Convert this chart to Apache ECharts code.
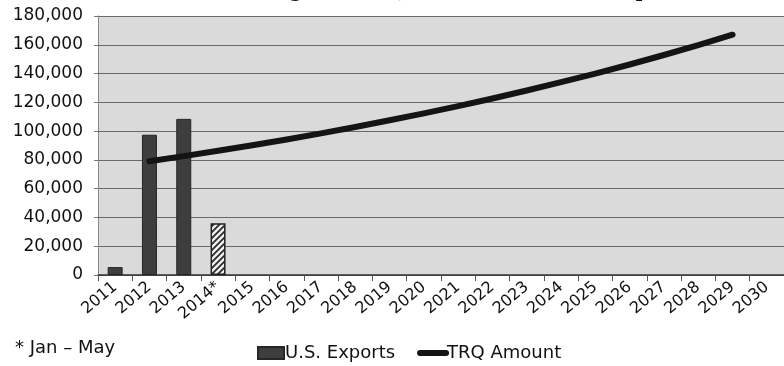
<!DOCTYPE html>
<html>
<head>
<meta charset="utf-8">
<script src="https://cdn.jsdelivr.net/npm/echarts@6/dist/echarts.min.js"></script>
<style>
  html, body { margin: 0; padding: 0; background: #ffffff; }
  #chart { width: 784px; height: 366px; }
</style>
</head>
<body>
<div id="chart"></div>
<script>
// Marketing years shown on the category axis (2014 is a partial year)
var years = ['2011', '2012', '2013', '2014*', '2015', '2016', '2017', '2018', '2019', '2020',
             '2021', '2022', '2023', '2024', '2025', '2026', '2027', '2028', '2029', '2030'];

// U.S. exports, metric tons
var usExports = [5500, 97500, 108500, 36000, null, null, null, null, null, null,
                 null, null, null, null, null, null, null, null, null, null];

// Tariff-rate quota amount, metric tons
var trqAmount = [null, 79000, 82600, 86300, 90200, 94200, 98400, 102900, 107500, 112300,
                 117400, 122700, 128200, 134000, 140000, 146300, 152900, 159800, 167000, null];

// Value axis ticks
var yTicks = [0, 20000, 40000, 60000, 80000, 100000, 120000, 140000, 160000, 180000];

var titleText = 'Colombia: Rising Rice TRQ Amount versus U.S. Exports';
var footnote = '* Jan \u2013 May';

// Diagonal hatch fill for the partial-year bar
function hatchPattern() {
  var c = document.createElement('canvas');
  c.width = 6; c.height = 6;
  var g = c.getContext('2d');
  g.fillStyle = '#f0f0f0';
  g.fillRect(0, 0, 6, 6);
  g.strokeStyle = '#2a2a2a';
  g.lineWidth = 1.8;
  g.beginPath();
  g.moveTo(-1, 7); g.lineTo(7, -1);
  g.moveTo(-4, 4); g.lineTo(4, -4);
  g.moveTo(2, 10); g.lineTo(10, 2);
  g.stroke();
  return c;
}

var barData = usExports.map(function (v, i) {
  if (years[i] === '2014*' && v != null) {
    return {
      value: v,
      itemStyle: {
        color: { image: hatchPattern(), repeat: 'repeat' },
        borderColor: '#222',
        borderWidth: 1.5
      }
    };
  }
  return v;
});

var font = 'DejaVu Sans';

var chart = echarts.init(document.getElementById('chart'), null, { renderer: 'canvas' });
chart.setOption({
  animation: false,
  backgroundColor: '#ffffff',
  grid: {
    left: 98, top: 16, width: 690, height: 259,
    show: true, backgroundColor: '#dadada', borderWidth: 0
  },
  graphic: [
    {
      type: 'text', x: 409, y: -17, z: 10,
      style: {
        text: titleText,
        font: 'bold 18px "DejaVu Serif"',
        fill: '#111',
        align: 'center',
        verticalAlign: 'top'
      }
    },
    {
      type: 'text', left: 15, top: 339, z: 10,
      style: { text: footnote, font: '18px "' + font + '"', fill: '#111' }
    }
  ],
  legend: {
    left: 252, top: 339,
    itemWidth: 26, itemHeight: 12, itemGap: 22,
    textStyle: { fontFamily: font, fontSize: 18, color: '#111', padding: [0, 0, 0, -4] },
    data: [
      { name: 'U.S. Exports', icon: 'rect' },
      { name: 'TRQ Amount', itemStyle: { opacity: 0 }, lineStyle: { width: 6, cap: 'round' } }
    ]
  },
  xAxis: {
    type: 'category',
    data: years,
    boundaryGap: true,
    axisLine: { lineStyle: { color: '#333', width: 1.5 } },
    axisTick: { show: true, interval: 0, length: 6, lineStyle: { color: '#555' } },
    axisLabel: {
      interval: 0, rotate: 40, margin: 10,
      fontFamily: font, fontSize: 16, color: '#111'
    },
    splitLine: { show: false }
  },
  yAxis: {
    type: 'value',
    min: yTicks[0], max: yTicks[yTicks.length - 1], interval: yTicks[1] - yTicks[0],
    axisLine: { show: true, lineStyle: { color: '#777', type: 'dotted' } },
    axisTick: { show: true, length: 4, lineStyle: { color: '#777' } },
    axisLabel: {
      margin: 15, fontFamily: font, fontSize: 17, color: '#111',
      formatter: function (v) { return v.toLocaleString('en-US'); }
    },
    splitLine: { lineStyle: { color: '#6a6a6a', width: 1 } }
  },
  series: [
    {
      name: 'U.S. Exports',
      type: 'bar',
      data: barData,
      barWidth: 15,
      itemStyle: { color: '#3e3e3e', borderColor: '#262626', borderWidth: 1 },
      z: 2
    },
    {
      name: 'TRQ Amount',
      type: 'line',
      data: trqAmount,
      symbol: 'none',
      connectNulls: false,
      lineStyle: { color: '#141414', width: 6, cap: 'round', join: 'round' },
      itemStyle: { color: '#141414' },
      z: 3
    }
  ]
});
</script>
</body>
</html>
